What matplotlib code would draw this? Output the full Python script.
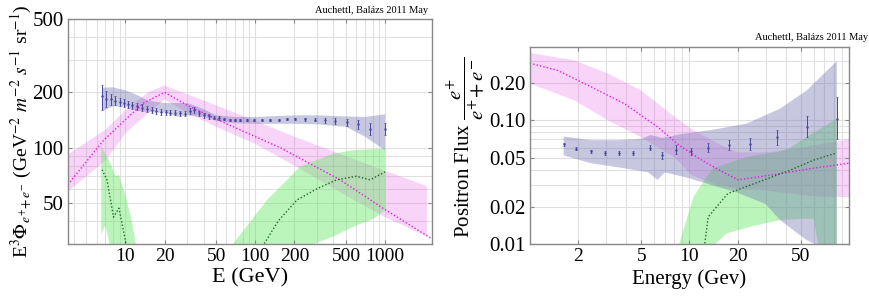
import numpy as np
import matplotlib
matplotlib.use("Agg")
import matplotlib.pyplot as plt
from matplotlib.ticker import FixedLocator, NullFormatter, NullLocator

plt.rcParams['font.family'] = ['Liberation Serif', 'DejaVu Serif']
plt.rcParams['mathtext.fontset'] = 'stix'

# ---------------- left panel: e+ + e- flux ----------------
e_pts = [6.6, 7.1, 7.7, 8.3, 9.0, 9.7, 10.5, 11.3, 12.3, 13.4, 14.7, 16.0, 17.3, 18.9,
         20.6, 22.2, 24.2, 26.5, 28.6, 31.2, 33.5, 36.6, 40.0, 43.7, 47.8, 52.2, 57.0,
         63.4, 70.1, 76.7, 86.3, 97.0, 113, 130, 151, 175, 203, 243, 290, 345, 412,
         507, 623, 767, 1000]
flux_pts = [190, 185, 183, 180, 178, 176, 172, 170, 168, 165, 162, 160, 158, 157,
            156, 155, 155, 154, 153, 158, 160, 154, 150, 148, 146, 145, 143,
            142, 141, 141, 141, 141, 141, 141, 142, 143, 144, 143, 142, 141, 140,
            138, 134, 127, 127]
flux_err = [30, 18, 12, 10, 9, 9, 8, 8, 7, 7, 6, 6, 6, 6,
            5, 5, 5, 5, 5, 6, 6, 5, 4, 4, 3, 3, 2,
            2, 2, 2, 2, 2, 2, 2, 2, 2, 2, 3, 3, 4, 5,
            6, 7, 9, 10]

blue_e = [6.6, 8, 10, 12, 15, 20, 25, 30, 40, 50, 70, 100, 200, 300, 500, 700, 1000]
blue_hi = [212, 213, 205, 195, 180, 175, 175, 175, 162, 150, 147, 147, 150, 150, 148, 147, 152]
blue_lo = [158, 168, 167, 160, 156, 155, 148, 150, 147, 140, 136, 135, 135, 134, 130, 115, 97]

mag_e = [3.6, 5.4, 6.8, 10.3, 13.8, 20, 30, 60, 156, 450, 960, 2300]
mag_v = [63, 90, 110, 145, 175, 200, 170, 135, 100, 67, 47, 32]
pink_e = [3.6, 7, 10, 15, 20, 30, 50, 100, 200, 500, 1000, 2100]
pink_hi = [92, 125, 160, 200, 218, 195, 170, 140, 115, 90, 75, 62]
pink_lo = [58, 85, 120, 155, 183, 155, 130, 105, 80, 55, 42, 33]

g1_hi_e = [6.5, 7.5, 8.4, 8.9, 10.0, 11.3, 12.5]
g1_hi = [102, 85, 70, 71, 55, 39, 25]
g1_lo_e = [6.5, 7.0, 8.0]
g1_lo = [34, 38, 25]
dg1_e = [6.6, 7.2, 8.1, 8.9, 9.4, 10.2]
dg1_v = [76, 67, 42, 47, 39, 29]

g2_hi_e = [60, 123, 222, 400, 570, 1000]
g2_hi = [27, 52, 79, 93, 97, 99]
g2_lo_e = [60, 250, 400, 600, 750, 850, 1000]
g2_lo = [25, 29, 33, 38, 40, 42, 46]
dg2_e = [110, 150, 209, 300, 424, 600, 767, 1000]
dg2_v = [28, 40, 52, 60, 67, 70, 67, 74]

# ---------------- right panel: positron fraction ----------------
pf_e = [1.63, 1.96, 2.42, 2.96, 3.64, 4.46, 5.68, 6.76, 8.27, 10.2, 13.1, 17.6, 24.1, 35.3, 54.2, 83.7]
pf_v = [0.064, 0.059, 0.056, 0.0545, 0.054, 0.0545, 0.060, 0.052, 0.058, 0.056, 0.060, 0.063, 0.064, 0.073, 0.088, 0.103]
pf_lo = [0.002, 0.002, 0.002, 0.002, 0.002, 0.002, 0.003, 0.003, 0.005, 0.004, 0.005, 0.006, 0.007, 0.010, 0.015, 0.033]
pf_hi = [0.002, 0.002, 0.002, 0.002, 0.002, 0.002, 0.003, 0.003, 0.005, 0.004, 0.005, 0.006, 0.008, 0.010, 0.020, 0.051]

rb_hi_e = [1.63, 2.4, 3.6, 5.0, 5.7, 6.8, 8.7, 14.1, 22.8, 36.9, 54.2, 83.7]
rb_hi = [0.074, 0.069, 0.069, 0.071, 0.076, 0.072, 0.077, 0.084, 0.094, 0.124, 0.174, 0.30]
rb_lo_e = [1.63, 2.4, 3.9, 5.5, 6.3, 7.0, 10, 15, 20, 30, 37, 54, 66, 83.7]
rb_lo = [0.052, 0.045, 0.041, 0.038, 0.033, 0.038, 0.034, 0.029, 0.026, 0.021, 0.0156, 0.0108, 0.0095, 0.008]

rm_e = [1.0, 1.49, 2.42, 3.92, 6.34, 8.6, 11.5, 15.4, 20.2, 36.9, 59.7, 100]
rm_v = [0.289, 0.253, 0.186, 0.136, 0.088, 0.063, 0.049, 0.0395, 0.033, 0.037, 0.041, 0.045]
rp_e = [1.0, 1.9, 3.08, 4.98, 8.1, 10.3, 15, 20, 30, 50, 70, 100]
rp_hi = [0.35, 0.305, 0.238, 0.174, 0.106, 0.085, 0.065, 0.055, 0.055, 0.060, 0.065, 0.070]
rp_lo = [0.198, 0.145, 0.100, 0.073, 0.050, 0.036, 0.030, 0.028, 0.027, 0.025, 0.024, 0.024]

rg_hi_e = [8.4, 10.6, 12.8, 14.1, 22.8, 36.9, 42.7, 54, 83.7]
rg_hi = [0.009, 0.024, 0.035, 0.041, 0.0505, 0.056, 0.060, 0.073, 0.103]
rg_lo_e = [8.4, 12, 17.1, 25, 36.9, 50, 60, 66, 83.7]
rg_lo = [0.008, 0.008, 0.0122, 0.014, 0.0156, 0.016, 0.016, 0.008, 0.008]
rdg_e = [12.4, 13.1, 17.4, 29, 42.7, 59.7, 83.7]
rdg_v = [0.0095, 0.0166, 0.0256, 0.0328, 0.0395, 0.0476, 0.0545]

BLUE = (0.45, 0.45, 0.70)
PINK = (0.90, 0.40, 0.90)
GREEN = (0.35, 0.90, 0.35)
MAG = (0.90, 0.10, 0.90)
DGREEN = (0.12, 0.42, 0.12)
PTS = (0.28, 0.28, 0.62)
GRID = (0.88, 0.88, 0.88)


def band(ax, xu, yu, xl, yl, color, alpha):
    xs = np.concatenate([xu, np.array(xl)[::-1]])
    ys = np.concatenate([yu, np.array(yl)[::-1]])
    ax.fill(xs, ys, color=color, alpha=alpha, lw=0)


def style(ax, xgrid, ygrid, xt, xl, yt, yl):
    ax.set_xscale('log')
    ax.set_yscale('log')
    for x in xgrid:
        ax.axvline(x, color=GRID, lw=0.8, zorder=0)
    for y in ygrid:
        ax.axhline(y, color=GRID, lw=0.8, zorder=0)
    ax.xaxis.set_major_locator(FixedLocator(xt))
    ax.set_xticklabels(xl)
    ax.xaxis.set_minor_locator(NullLocator())
    ax.yaxis.set_major_locator(FixedLocator(yt))
    ax.set_yticklabels(yl)
    ax.yaxis.set_minor_locator(NullLocator())
    ax.xaxis.set_minor_formatter(NullFormatter())
    ax.yaxis.set_minor_formatter(NullFormatter())
    ax.tick_params(axis='both', direction='in', length=3, color='#888888',
                   top=True, right=True, pad=3)
    ax.tick_params(axis='x', labelsize=14)
    ax.tick_params(axis='y', labelsize=15)
    for s in ax.spines.values():
        s.set_color('#888888')
        s.set_linewidth(1.0)


fig = plt.figure(figsize=(8.7, 2.98), dpi=100)

# left
ax1 = fig.add_axes([0.078, 0.181, 0.4186, 0.755])
band(ax1, pink_e, pink_hi, pink_e, pink_lo, PINK, 0.28)
band(ax1, g1_hi_e, g1_hi, g1_lo_e, g1_lo, GREEN, 0.40)
band(ax1, g2_hi_e, g2_hi, g2_lo_e, g2_lo, GREEN, 0.40)
band(ax1, blue_e, blue_hi, blue_e, blue_lo, BLUE, 0.40)
ax1.plot(mag_e, mag_v, ls=(0, (1, 1.5)), color=MAG, lw=1.0)
ax1.plot(dg1_e, dg1_v, ls=(0, (1, 1.5)), color=DGREEN, lw=1.0)
ax1.plot(dg2_e, dg2_v, ls=(0, (1, 1.5)), color=DGREEN, lw=1.0)
ax1.errorbar(e_pts, flux_pts, yerr=flux_err, fmt='.', ms=1.5, color=PTS,
             elinewidth=0.7, capsize=1, capthick=0.5)
xg1 = [m * 10 ** d for d in range(0, 3) for m in range(1, 10)] + [1000]
xg1 = [x for x in xg1 if x >= 4]
yg1 = [30, 40, 50, 60, 70, 80, 90, 100, 200, 300, 400, 500]
style(ax1, xg1, yg1, [10, 20, 50, 100, 200, 500, 1000],
      ['10', '20', '50', '100', '200', '500', '1000'],
      [50, 100, 200, 500], ['50', '100', '200', '500'])
ax1.set_xlim(3.6, 2300)
ax1.set_ylim(30, 500)
ax1.set_xlabel('E (GeV)', fontsize=16, labelpad=2)
fig.text(0.025, 0.134,
         r'E$^3\Phi_{e^{+}\!+e^{-}}$ (GeV$^{-2}$ $m^{-2}$ $s^{-1}$ sr$^{-1}$)',
         rotation=90, ha='center', va='bottom', fontsize=14)
fig.text(0.492, 0.965, 'Auchettl, Balázs 2011 May', ha='right', va='center', fontsize=7.5)

# right
ax2 = fig.add_axes([0.609, 0.181, 0.367, 0.661])
band(ax2, rp_e, rp_hi, rp_e, rp_lo, PINK, 0.28)
ax2.plot(rm_e, rm_v, ls=(0, (1, 1.5)), color=MAG, lw=1.0, zorder=1.5)
band(ax2, rg_hi_e, rg_hi, rg_lo_e, rg_lo, GREEN, 0.40)
band(ax2, rb_hi_e, rb_hi, rb_lo_e, rb_lo, BLUE, 0.40)
ax2.plot(rdg_e, rdg_v, ls=(0, (1, 1.5)), color=DGREEN, lw=1.0)
ax2.errorbar(pf_e, pf_v, yerr=[pf_lo, pf_hi], fmt='.', ms=1.5, color=PTS,
             elinewidth=0.7, capsize=1, capthick=0.5)
xg2 = [m * 10 ** d for d in range(0, 2) for m in range(1, 10)]
yg2 = [0.01 * m for m in range(1, 10)] + [0.1, 0.2, 0.3]
style(ax2, xg2, yg2, [2, 5, 10, 20, 50], ['2', '5', '10', '20', '50'],
      [0.01, 0.02, 0.05, 0.10, 0.20], ['0.01', '0.02', '0.05', '0.10', '0.20'])
ax2.set_xlim(1.0, 100)
ax2.set_ylim(0.01, 0.39)
ax2.set_xlabel('Energy (Gev)', fontsize=15, labelpad=3)
fig.text(0.535, 0.20, r'Positron Flux $\dfrac{e^{+}}{e^{+}\!+e^{-}}$',
         rotation=90, ha='center', va='bottom', fontsize=15)
fig.text(0.998, 0.875, 'Auchettl, Balázs 2011 May', ha='right', va='center', fontsize=7.5)

fig.savefig('out.png', dpi=100)
